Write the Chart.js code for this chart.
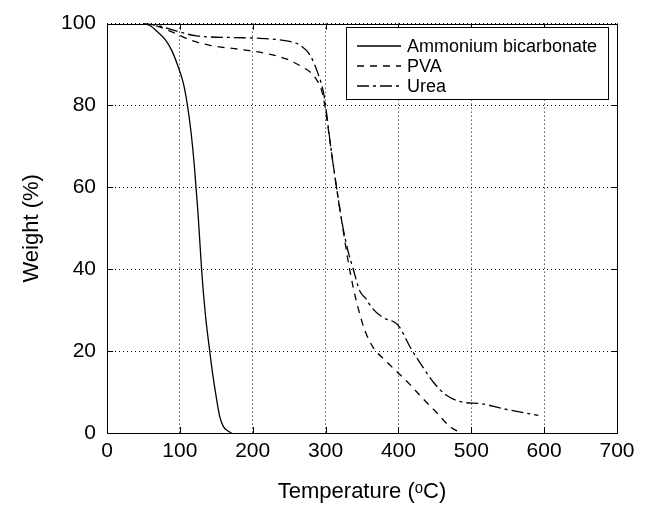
<!DOCTYPE html>
<html><head><meta charset="utf-8">
<script src="https://cdn.jsdelivr.net/npm/chart.js@4"></script>
<style>html,body{margin:0;padding:0;background:#fff}</style>
</head><body>
<canvas id="c" width="651" height="507"></canvas>
<script>
// Ammonium bicarbonate
const tempAB   = [50, 54, 60, 68, 80, 89, 98, 105, 110, 115, 120, 125, 130, 135, 141, 145, 150, 155, 160, 165, 171];
const weightAB = [100, 99.9, 99.4, 98.2, 96.1, 93.4, 89.3, 85.3, 80.5, 74, 65, 53.5, 39.5, 29, 20, 14.5, 8.7, 3.8, 1.5, 0.6, 0];
// PVA
const tempPVA   = [50, 60, 75, 95, 114, 141, 183, 219, 247, 269, 280, 288, 294, 299, 307, 315, 322, 330, 338, 345, 354, 365, 382, 399, 415, 432, 453, 471, 487];
const weightPVA = [100, 99.8, 99, 97.5, 96, 94.7, 93.7, 92.7, 91.3, 89.3, 88, 86.2, 84, 80, 70, 60, 52, 43, 35.5, 30.3, 25, 21, 17.7, 14.8, 12, 8.7, 4.9, 1.5, 0];
// Urea
const tempUrea   = [50, 60, 70, 89, 123, 173, 210, 242, 265, 279, 290, 297, 300, 307, 315, 322, 330, 338, 347, 356, 363, 379, 395, 401, 408, 416, 432, 448, 466, 489, 512, 542, 592];
const weightUrea = [100, 99.8, 99.5, 98.5, 97, 96.6, 96.4, 95.9, 94.7, 92.2, 87.6, 83.3, 80, 70, 60, 52, 45, 40, 34.7, 32.7, 30.7, 28.2, 27, 26, 23.8, 21, 16.5, 12.4, 9.2, 7.5, 7.2, 6, 4.3];

const seriesLabels = ['Ammonium bicarbonate', 'PVA', 'Urea'];
const xTickValues = [0, 100, 200, 300, 400, 500, 600, 700];
const yTickValues = [0, 20, 40, 60, 80, 100];
const xTitle = 'Temperature (ᵒC)';
const yTitle = 'Weight (%)';

const FONT = "'Liberation Sans', Arial, 'DejaVu Sans', sans-serif";
const toPts = (xs, ys) => xs.map((x, i) => ({x: x, y: ys[i]}));
const dashes = [[], [7, 6], [12, 4, 3, 4]];

const datasets = [
  {label: seriesLabels[0], data: toPts(tempAB, weightAB)},
  {label: seriesLabels[1], data: toPts(tempPVA, weightPVA)},
  {label: seriesLabels[2], data: toPts(tempUrea, weightUrea)}
].map((d, i) => Object.assign(d, {
  borderColor: '#000', borderWidth: 1.3, borderDash: dashes[i],
  pointRadius: 0, fill: false, cubicInterpolationMode: 'monotone'
}));

const framePlugin = {
  id: 'frame',
  afterDatasetsDraw(chart) {
    const {ctx, chartArea: a, scales: {x, y}} = chart;
    ctx.save();
    ctx.strokeStyle = '#000';
    ctx.lineWidth = 1;
    ctx.setLineDash([]);
    ctx.strokeRect(Math.round(a.left) + 0.5, Math.round(a.top) + 0.5, Math.round(a.right - a.left), Math.round(a.bottom - a.top));
    const L = 6;
    ctx.beginPath();
    xTickValues.forEach(v => {
      const px = Math.round(x.getPixelForValue(v)) + 0.5;
      ctx.moveTo(px, a.bottom); ctx.lineTo(px, a.bottom - L);
      ctx.moveTo(px, a.top); ctx.lineTo(px, a.top + L);
    });
    yTickValues.forEach(v => {
      const py = Math.round(y.getPixelForValue(v)) + 0.5;
      ctx.moveTo(a.left, py); ctx.lineTo(a.left + L, py);
      ctx.moveTo(a.right, py); ctx.lineTo(a.right - L, py);
    });
    ctx.stroke();

    // legend
    const bx = 346.5, by = 27.5, bw = 262, bh = 72;
    ctx.fillStyle = '#fff';
    ctx.fillRect(bx, by, bw, bh);
    ctx.strokeRect(bx, by, bw, bh);
    ctx.font = '18px ' + FONT;
    ctx.textBaseline = 'middle';
    ctx.textAlign = 'left';
    const rows = [46, 66, 86];
    chart.data.datasets.forEach((ds, i) => {
      ctx.beginPath();
      ctx.setLineDash(ds.borderDash);
      ctx.lineWidth = 1.3;
      ctx.moveTo(357, rows[i]); ctx.lineTo(401, rows[i]);
      ctx.stroke();
      ctx.setLineDash([]);
      ctx.fillStyle = '#000';
      ctx.fillText(ds.label, 407, rows[i] + 1);
    });
    ctx.restore();
  }
};

new Chart(document.getElementById('c'), {
  type: 'line',
  data: {datasets},
  options: {
    responsive: false,
    animation: false,
    devicePixelRatio: 1,
    layout: {padding: {top: 21, right: 34, left: 0, bottom: 0}},
    plugins: {legend: {display: false}, tooltip: {enabled: false}},
    scales: {
      x: {
        type: 'linear', min: 0, max: 700,
        afterBuildTicks: s => { s.ticks = xTickValues.map(v => ({value: v})); },
        afterFit: s => { s.height = 74; },
        ticks: {color: '#000', font: {family: FONT, size: 21}, padding: 6, maxRotation: 0, autoSkip: false},
        grid: {color: '#000', lineWidth: 1, drawTicks: false},
        border: {display: false, dash: [1, 3]},
        title: {display: true, text: xTitle, color: '#000', font: {family: FONT, size: 22}, padding: {top: 0, bottom: 2}}
      },
      y: {
        type: 'linear', min: 0, max: 100,
        afterBuildTicks: s => { s.ticks = yTickValues.map(v => ({value: v})); },
        afterFit: s => { s.width = 107; },
        ticks: {color: '#000', font: {family: FONT, size: 21}, padding: 11, autoSkip: false},
        grid: {color: '#000', lineWidth: 1, drawTicks: false},
        border: {display: false, dash: [1, 3]},
        title: {display: true, text: yTitle, color: '#000', font: {family: FONT, size: 22}, padding: {top: 19, bottom: 0}}
      }
    }
  },
  plugins: [framePlugin]
});
</script>
</body></html>
